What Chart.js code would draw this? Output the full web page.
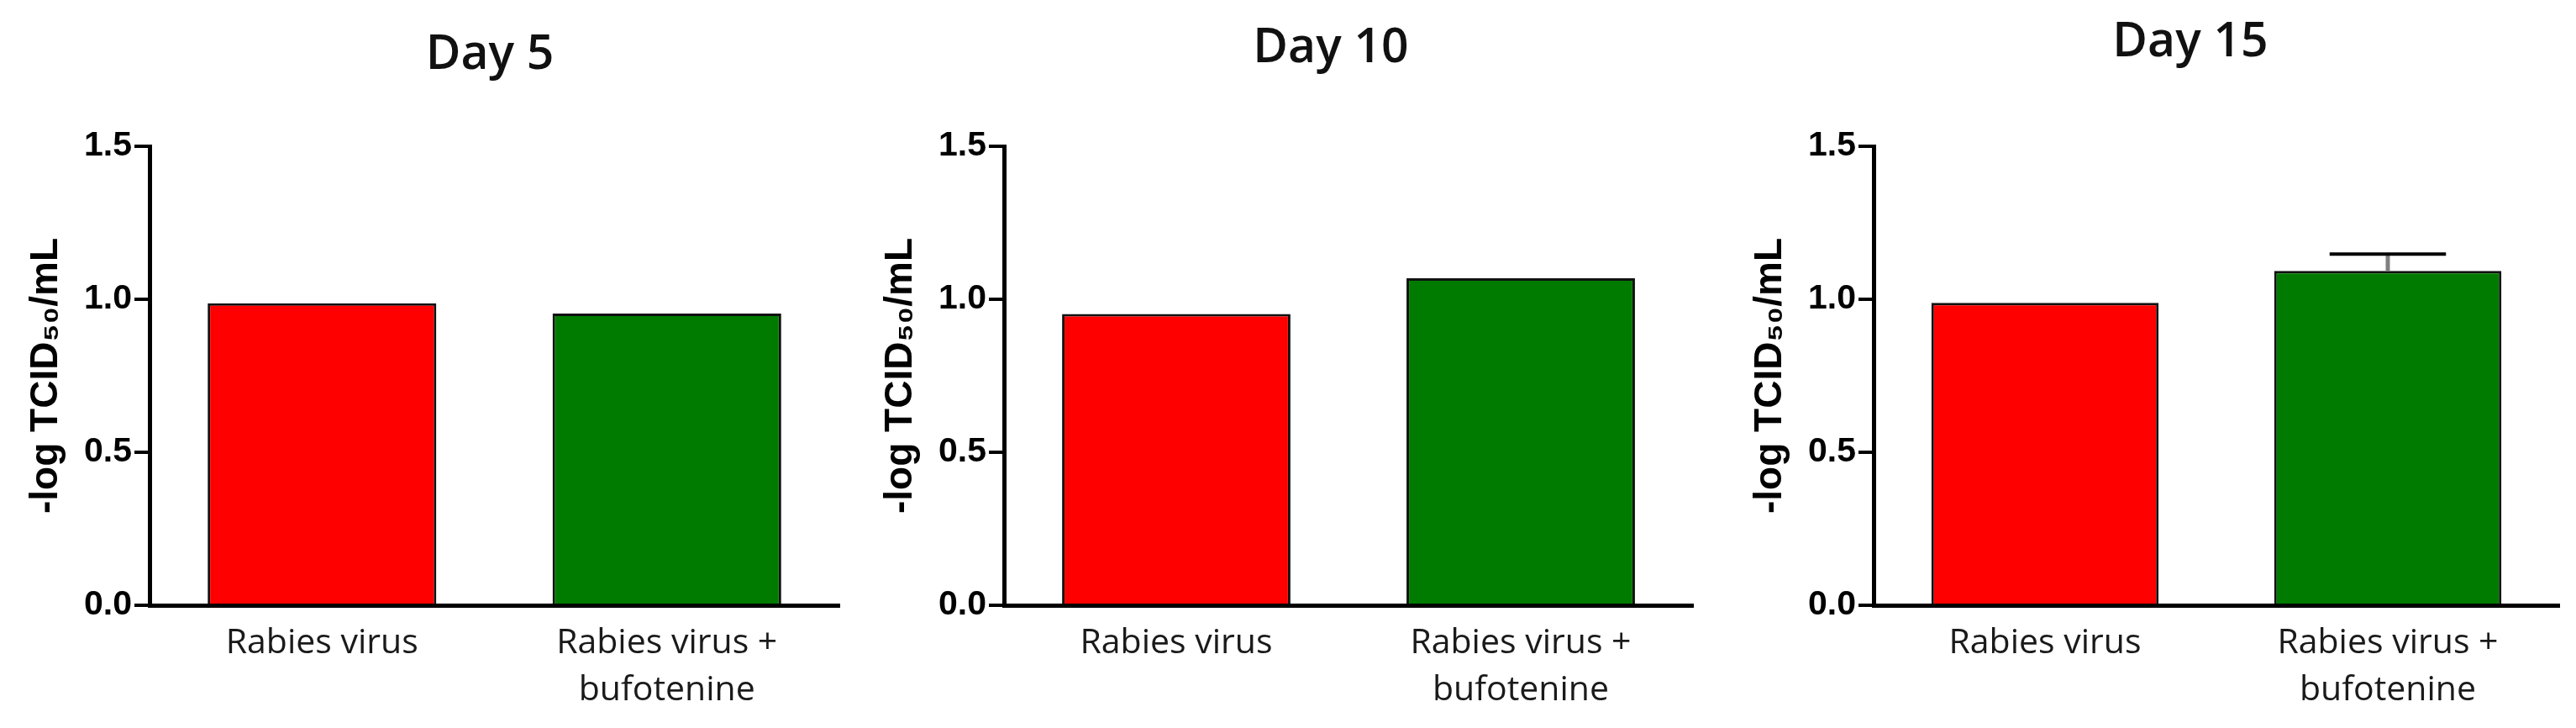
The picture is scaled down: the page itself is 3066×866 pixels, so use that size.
<!DOCTYPE html>
<html>
<head>
<meta charset="utf-8">
<script src="https://cdn.jsdelivr.net/npm/chart.js@4.4.1/dist/chart.umd.min.js"></script>
<style>
html,body{margin:0;padding:0;background:#fff;}
#wrap{position:relative;width:3066px;height:866px;overflow:hidden;background:#fff;}
canvas{position:absolute;top:0;}
</style>
</head>
<body>
<div id="wrap">
<canvas id="c0" width="1020" height="866" style="left:0px"></canvas>
<canvas id="c1" width="1020" height="866" style="left:1020px"></canvas>
<canvas id="c2" width="1026" height="866" style="left:2040px"></canvas>
</div>
<script>
// ---- data ----
const categories = [['Rabies virus'], ['Rabies virus +', 'bufotenine']];
const dayTitles = ['Day 5', 'Day 10', 'Day 15'];
const day5 = [0.987, 0.953];
const day10 = [0.952, 1.069];
const day15 = [0.988, 1.093];
const day5Sem = [0, 0];
const day10Sem = [0, 0];
const day15Sem = [0, 0.055];
const yTitle = '-log TCID\u2085\u2080/mL';
const barColors = ['#ff0000', '#007b00'];

// ---- layout (styles only) ----
const panels = [
  {id: 'c0', title: dayTitles[0], values: day5, sem: day5Sem, yW: 178, padR: 21, tShift: -5.5, tTop: 37, tBot: 80, yPad: 28},
  {id: 'c1', title: dayTitles[1], values: day10, sem: day10Sem, yW: 175, padR: 25, tShift: -21, tTop: 29.5, tBot: 87.5, yPad: 25},
  {id: 'c2', title: dayTitles[2], values: day15, sem: day15Sem, yW: 190, padR: 20, tShift: -31, tTop: 22.5, tBot: 94.5, yPad: 40}
];

const errorBarPlugin = {
  id: 'errorBars',
  afterDatasetsDraw(chart) {
    const sem = chart.$sem;
    if (!sem) return;
    const ctx = chart.ctx;
    const meta = chart.getDatasetMeta(0);
    const ys = chart.scales.y;
    const vals = chart.data.datasets[0].data;
    meta.data.forEach((bar, i) => {
      const e = sem[i];
      if (!e) return;
      const top = ys.getPixelForValue(vals[i] + e);
      const half = bar.width * 0.256;
      ctx.save();
      ctx.strokeStyle = '#808080';
      ctx.lineWidth = 5;
      ctx.beginPath();
      ctx.moveTo(bar.x, bar.y);
      ctx.lineTo(bar.x, top);
      ctx.stroke();
      ctx.strokeStyle = '#000';
      ctx.lineWidth = 4;
      ctx.beginPath();
      ctx.moveTo(bar.x - half, top);
      ctx.lineTo(bar.x + half, top);
      ctx.stroke();
      ctx.restore();
    });
  }
};

const titleShiftPlugin = {
  id: 'titleShift',
  afterLayout(chart) {
    const t = chart.titleBlock;
    if (t && chart.$tShift) { t.left += chart.$tShift; t.right += chart.$tShift; }
  }
};

panels.forEach(p => {
  const chart = new Chart(document.getElementById(p.id), {
    type: 'bar',
    data: {
      labels: categories,
      datasets: [{
        data: p.values,
        backgroundColor: barColors,
        borderColor: '#111',
        borderWidth: 3,
        borderSkipped: 'start',
        barPercentage: 0.663,
        categoryPercentage: 1.0
      }]
    },
    options: {
      responsive: false,
      animation: false,
      devicePixelRatio: 1,
      layout: {padding: {left: 0, right: p.padR, top: 0, bottom: 0}},
      plugins: {
        legend: {display: false},
        tooltip: {enabled: false},
        title: {
          display: true,
          text: p.title,
          fullSize: false,
          color: '#111',
          font: {family: '"Open Sans", sans-serif', size: 57, weight: '600', lineHeight: 1},
          padding: {top: p.tTop, bottom: p.tBot}
        }
      },
      scales: {
        x: {
          grid: {display: false, drawTicks: false},
          border: {display: true, color: '#000', width: 5},
          ticks: {
            color: '#1a1a1a',
            padding: 17,
            maxRotation: 0,
            autoSkip: false,
            font: {family: '"Open Sans", sans-serif', size: 41, lineHeight: 1.375}
          },
          afterFit(s) { s.height = 146; }
        },
        y: {
          min: 0,
          max: 1.5,
          ticks: {
            stepSize: 0.5,
            color: '#000',
            padding: 3,
            font: {family: '"Liberation Sans", Arial, sans-serif', size: 41, weight: 'bold'},
            callback: v => Number(v).toFixed(1)
          },
          grid: {drawOnChartArea: false, drawTicks: true, tickLength: 18, tickWidth: 4, lineWidth: 4, color: '#000', tickColor: '#000'},
          border: {display: true, color: '#000', width: 5},
          title: {
            display: true,
            text: yTitle,
            color: '#000',
            font: {family: '"Liberation Sans", Arial, sans-serif', size: 46, weight: 'bold', lineHeight: 1.2},
            padding: {top: p.yPad, bottom: 0}
          },
          afterFit(s) { s.width = p.yW; }
        }
      }
    },
    plugins: [errorBarPlugin, titleShiftPlugin]
  });
  chart.$sem = p.sem;
  chart.$tShift = p.tShift;
  chart.update('none');
});
</script>
</body>
</html>
